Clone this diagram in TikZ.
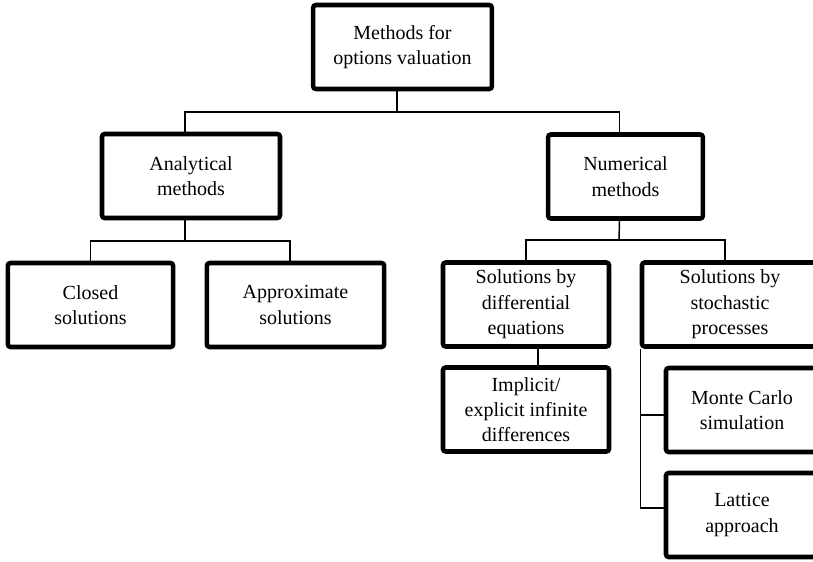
\documentclass[tikz,border=0pt]{standalone}
\usepackage{fontspec}
\setmainfont{Liberation Serif}
\tikzset{
  box/.style={draw, line width=3.4pt, rounded corners=2pt, align=center,
    inner sep=2pt, minimum height=63pt, font=\fontsize{15}{19}\selectfont},
  link/.style={line width=1.1pt}
}
\begin{document}
\begin{tikzpicture}[x=0.75pt, y=-0.75pt]
  \clip (0,0) rectangle (813,561);
  \node[box, minimum width=134pt] (root) at (402.5,47) {Methods for\\options valuation};
  \node[box, minimum width=133.5pt] (ana) at (191,176) {Analytical\\methods};
  \node[box, minimum width=116pt] (num) at (625.5,176.5) {Numerical\\methods};
  \node[box, minimum width=124pt] (closed) at (90.5,305) {Closed\\solutions};
  \node[box, minimum width=133pt] (approx) at (295.5,305) {Approximate\\solutions};
  \node[box, minimum width=124.5pt] (diff) at (526,304.5) {Solutions by\\differential\\equations};
  \node[box, minimum width=124.5pt] (impl) at (526,409.5) {Implicit/\\explicit infinite\\differences};
  \node[box, minimum width=132pt] (stoch) at (730,304.5) {Solutions by\\stochastic\\processes};
  \node[box, minimum width=114pt] (mc) at (742,410) {Monte Carlo\\simulation};
  \node[box, minimum width=114pt] (lat) at (742,515) {Lattice\\approach};
  % junctions
  \coordinate (r1) at (397,112);
  \coordinate (a1) at (185,241);
  \coordinate (n1) at (619,240);
  \draw[link] (root.south -| r1) -- (r1);
  \draw[link] ([xshift=-4.5pt]ana.north) |- (r1) -| ([xshift=-4.5pt]num.north);
  \draw[link] ([xshift=-4.5pt]ana.south) -- (a1);
  \draw[link] (closed.north) |- (a1) -| ([xshift=-4pt]approx.north);
  \draw[link] ([xshift=-4.5pt]num.south) -- (n1);
  \draw[link] (diff.north) |- (n1) -| ([xshift=-3.75pt]stoch.north);
  \draw[link] ([xshift=9pt]diff.south) -- ([xshift=9pt]impl.north);
  \draw[link] ([xshift=0.75pt]stoch.south west) |- ([yshift=-3.75pt]mc.west);
  \draw[link] ([xshift=0.75pt]stoch.south west) |- ([yshift=5.25pt]lat.west);
\end{tikzpicture}
\end{document}
